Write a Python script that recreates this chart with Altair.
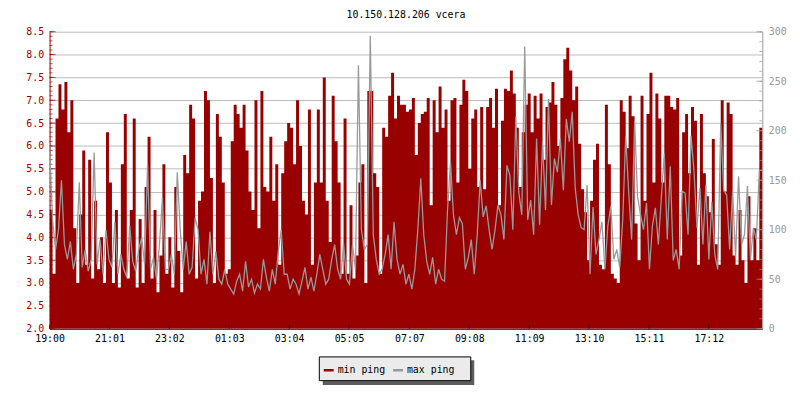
import altair as alt
import pandas as pd
import numpy as np

# ---- data (one value per 6 minutes, 19:00 -> 19:00) ----
min_ping = [
    # 19:00 - 21:00
    4.6, 3.2, 6.6, 7.35, 6.8, 7.4, 6.3, 7.0, 4.2, 3.0, 4.5, 5.9, 3.4, 5.7, 3.1, 4.8, 3.3, 4.0, 3.0, 6.3,
    # 21:00 - 23:00
    5.2, 3.0, 4.6, 2.9, 5.6, 6.7, 3.1, 4.6, 6.6, 2.9, 4.4, 3.0, 5.1, 6.2, 3.1, 4.6, 2.8, 3.6, 5.6, 3.2,
    # 23:00 - 01:00
    4.0, 2.9, 5.1, 3.7, 2.8, 5.8, 5.4, 6.9, 6.6, 3.1, 4.8, 5.0, 7.2, 7.0, 5.3, 3.0, 6.7, 6.2, 5.2, 3.2,
    # 01:00 - 03:00
    3.3, 6.1, 6.9, 6.7, 6.4, 6.9, 5.9, 5.0, 4.6, 7.0, 4.2, 7.2, 5.1, 5.0, 6.2, 4.8, 5.6, 3.4, 5.4, 6.1,
    # 03:00 - 05:00
    6.5, 6.4, 5.6, 7.0, 6.0, 4.8, 4.5, 6.8, 3.4, 5.2, 6.8, 5.2, 7.5, 4.8, 3.9, 7.1, 6.1, 5.2, 3.2, 6.6,
    # 05:00 - 07:00
    3.2, 4.7, 3.1, 3.6, 5.2, 5.6, 3.0, 7.2, 7.2, 5.4, 5.1, 3.2, 6.4, 6.2, 7.1, 7.6, 6.6, 7.1, 6.9, 6.9,
    # 07:00 - 09:00
    6.75, 6.8, 7.05, 5.8, 6.5, 6.7, 6.75, 7.05, 4.7, 7.0, 6.3, 7.3, 6.4, 6.8, 4.8, 7.0, 7.05, 5.2, 6.9, 7.45,
    # 09:00 - 11:00
    7.2, 5.5, 6.6, 6.8, 5.1, 6.85, 5.05, 6.85, 7.05, 6.4, 7.25, 4.7, 6.55, 7.25, 7.2, 7.65, 7.15, 6.4, 5.1, 6.3,
    # 11:00 - 13:00
    6.9, 7.15, 6.3, 7.1, 6.6, 7.15, 5.7, 6.85, 6.95, 7.4, 6.9, 6.0, 7.05, 7.9, 8.15, 7.65, 7.0, 7.3, 6.05, 5.05,
    # 13:00 - 15:00
    4.55, 3.5, 4.8, 5.7, 6.05, 3.4, 3.3, 6.9, 5.6, 3.2, 3.1, 3.0, 7.0, 6.75, 5.95, 7.1, 6.65, 4.3, 3.5, 7.1,
    # 15:00 - 17:00
    4.8, 6.7, 7.6, 5.2, 7.15, 6.6, 5.2, 7.1, 7.1, 6.85, 6.8, 7.05, 3.6, 6.3, 6.7, 5.4, 6.85, 6.55, 3.4, 6.7,
    # 17:00 - 19:00
    5.4, 4.9, 4.55, 6.15, 3.85, 3.4, 7.0, 5.0, 6.95, 6.7, 3.6, 3.4, 4.6, 3.5, 3.0, 4.9, 3.5, 4.2, 3.5, 6.4,
]

max_ping = [
    185, 110, 80, 100, 150, 85, 70, 88, 60, 75, 148, 62, 80, 58, 70, 178, 65, 90, 55, 100,
    70, 62, 108, 55, 75, 60, 52, 104, 68, 58, 80, 92, 65, 166, 60, 72, 50, 85, 132, 60,
    60, 75, 55, 158, 100, 60, 88, 55, 62, 112, 100, 55, 70, 45, 98, 55, 78, 50, 45, 60,
    45, 40, 35, 48, 55, 38, 68, 42, 50, 36, 45, 40, 70, 52, 38, 60, 45, 78, 100, 55,
    55, 40, 50, 45, 35, 48, 62, 40, 52, 38, 55, 75, 60, 45, 50, 70, 85, 60, 50, 86,
    50, 45, 85, 60, 266, 100, 80, 85, 296, 95, 70, 55, 60, 75, 95, 60, 108, 70, 55, 65,
    45, 55, 40, 60, 100, 152, 95, 68, 55, 72, 45, 60, 50, 48, 120, 168, 115, 95, 112, 106,
    60, 72, 90, 55, 95, 150, 113, 124, 100, 80, 100, 125, 115, 90, 165, 155, 100, 214, 138, 115,
    285, 110, 130, 95, 192, 105, 189, 120, 232, 125, 172, 158, 192, 140, 212, 189, 219, 142, 115, 102,
    100, 145, 55, 123, 75, 90, 108, 60, 104, 124, 70, 80, 62, 110, 194, 138, 90, 210, 133, 115,
    100, 127, 60, 104, 122, 85, 132, 177, 90, 164, 69, 80, 60, 139, 137, 95, 195, 159, 102, 142,
    85, 145, 70, 128, 75, 60, 207, 140, 135, 80, 139, 72, 154, 85, 95, 144, 70, 102, 90, 160,
]

x_tick_minutes = [0, 121, 242, 363, 484, 605, 727, 848, 969, 1090, 1211, 1332]
x_tick_labels = ["19:00", "21:01", "23:02", "01:03", "03:04", "05:05",
                 "07:07", "09:08", "11:09", "13:10", "15:11", "17:12"]
left_ticks = [2.0, 2.5, 3.0, 3.5, 4.0, 4.5, 5.0, 5.5, 6.0, 6.5, 7.0, 7.5, 8.0, 8.5]
right_ticks = [0, 50, 100, 150, 200, 250, 300]
series = ["min ping", "max ping"]
series_colors = ["#990000", "#999999"]
title_text = "10.150.128.206 vcera"

STEP = 6  # minutes per sample
FONT = "DejaVu Sans Mono"
RED = "#990000"
GREY = "#999999"

n = len(min_ping)
df = pd.DataFrame({
    "t": [STEP * i for i in range(n)] + [STEP * n],
    "v": min_ping + [min_ping[-1]],
    "m": max_ping + [max_ping[-1]],
})
minor_left = pd.DataFrame({"v": np.round(np.arange(2.0, 8.5001, 0.1), 1)})
major_left = pd.DataFrame({"v": left_ticks})
minor_right = pd.DataFrame({"m": list(range(0, 301, 10))})
major_right = pd.DataFrame({"m": right_ticks})
xticks_df = pd.DataFrame({"t": x_tick_minutes})
one = pd.DataFrame({"k": [0]})
legend_df = pd.DataFrame({"s": series})

xs = alt.Scale(domain=[0, STEP * n], nice=False, zero=False)
ly = alt.Scale(domain=[2.0, 8.5], nice=False, zero=False)
ry = alt.Scale(domain=[0, 300], nice=False, zero=False)

label_expr = ("[" + ",".join(f"'{l}'" for l in x_tick_labels) + "][indexof(["
              + ",".join(str(v) for v in x_tick_minutes) + "], datum.value)]")

x_axis = alt.Axis(values=x_tick_minutes, labelExpr=label_expr, ticks=False, tickSize=0,
                  domainColor="black", domainWidth=1, labelColor="black", labelFont=FONT,
                  labelFontSize=10, labelPadding=5, grid=False, title=None,
                  labelFlush=False, labelOverlap=False)
left_axis = alt.Axis(orient="left", values=left_ticks, format=".1f", ticks=False, tickSize=0,
                     domainColor=RED, labelColor=RED, labelFont=FONT, labelFontSize=10,
                     labelPadding=6, grid=True, gridColor="#BBBBBB", gridWidth=1, title=None,
                     labelFlush=False, labelOverlap=False)
right_axis = alt.Axis(orient="right", values=right_ticks, ticks=False, tickSize=0,
                      domainColor=GREY, labelColor=GREY, labelFont=FONT, labelFontSize=10,
                      labelPadding=6, grid=False, title=None, labelFlush=False,
                      labelOverlap=False)

X = alt.X("t:Q", scale=xs, axis=x_axis)

area = alt.Chart(df).mark_area(color=RED, interpolate="step-after", clip=True).encode(
    x=X, y=alt.Y("v:Q", scale=ly, axis=left_axis), y2=alt.datum(2.0))

lt_minor = alt.Chart(minor_left).mark_tick(color=RED, thickness=1, size=3).encode(
    y=alt.Y("v:Q", scale=ly, axis=left_axis), x=alt.value(1.5))
lt_major = alt.Chart(major_left).mark_tick(color=RED, thickness=1, size=6).encode(
    y=alt.Y("v:Q", scale=ly, axis=left_axis), x=alt.value(3))
xt = alt.Chart(xticks_df).mark_tick(color="black", thickness=1, size=4).encode(
    x=X, y=alt.value(298))

path = "M-1,-0.25H1V0.25H-1Z"
legend_pts = alt.Chart(legend_df).mark_point(filled=True, opacity=0, shape=path).encode(
    color=alt.Color("s:N", scale=alt.Scale(domain=series, range=series_colors),
                    legend=alt.Legend(title=None, orient="none", legendX=277, legendY=337,
                                      direction="horizontal", symbolType=path, symbolSize=100,
                                      symbolStrokeWidth=0, symbolOpacity=1, labelFont=FONT,
                                      labelFontSize=10, labelColor="black", labelOffset=4,
                                      columnPadding=7, padding=0)))

shadow = alt.Chart(one).mark_rect(color="#5E5E5E").encode(
    x=alt.value(276), x2=alt.value(429), y=alt.value(332), y2=alt.value(357))
box = alt.Chart(one).mark_rect(fill="#EBEBEB", stroke="black", strokeWidth=1).encode(
    x=alt.value(272.5), x2=alt.value(425.5), y=alt.value(328.5), y2=alt.value(352.5))

line = alt.Chart(df).mark_line(color=GREY, interpolate="linear", strokeWidth=1.3,
                               clip=True).encode(
    x=X, y=alt.Y("m:Q", scale=ry, axis=right_axis))
rt_minor = alt.Chart(minor_right).mark_tick(color=GREY, thickness=1, size=3).encode(
    y=alt.Y("m:Q", scale=ry, axis=right_axis), x=alt.value(718.5))
rt_major = alt.Chart(major_right).mark_tick(color=GREY, thickness=1, size=6).encode(
    y=alt.Y("m:Q", scale=ry, axis=right_axis), x=alt.value(717))

left_layer = alt.layer(area, lt_minor, lt_major, xt, shadow, box, legend_pts)
right_layer = alt.layer(line, rt_minor, rt_major)

chart = alt.layer(left_layer, right_layer).resolve_scale(y="independent").properties(
    width=720, height=300,
    title=alt.Title(title_text, font=FONT, fontSize=10, fontWeight="normal", color="black",
                    anchor="middle", offset=7),
    padding={"left": 42, "top": 22, "right": 30, "bottom": 62},
    autosize=alt.AutoSizeParams(type="none"),
).configure_view(stroke=None)

chart.save("out.html", embed_options={"renderer": "svg", "actions": False})
